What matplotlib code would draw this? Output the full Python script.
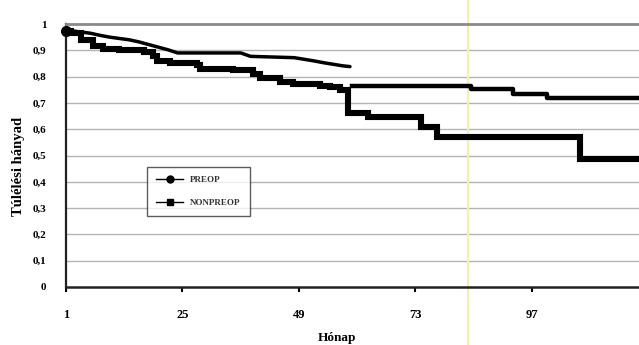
import matplotlib
matplotlib.use("Agg")
import matplotlib.pyplot as plt
from matplotlib.lines import Line2D

# ============================
# DATA
# ============================
preop_months = [1, 3, 6, 8, 10, 12, 14, 16, 18, 20, 22, 24, 37, 39, 48, 50, 52, 54, 56, 58, 59.5]
preop_surv = [0.978, 0.972, 0.965, 0.957, 0.950, 0.945, 0.940, 0.932, 0.922, 0.912, 0.902, 0.890,
              0.890, 0.877, 0.872, 0.866, 0.860, 0.853, 0.847, 0.841, 0.838]

nonpreop_months = [1, 2, 4, 6.6, 8.6, 12, 17, 19, 19.7, 22.4, 28, 28.6, 35.4, 39.5, 41, 45, 47.8,
                   53.3, 55.4, 57.4, 59.1, 63.3, 74.2, 77.4, 106.9, 119.5]
nonpreop_surv = [0.975, 0.965, 0.94, 0.915, 0.905, 0.90, 0.895, 0.88, 0.86, 0.85, 0.843, 0.83,
                 0.825, 0.81, 0.795, 0.78, 0.77, 0.765, 0.76, 0.75, 0.66, 0.648, 0.609, 0.571,
                 0.487, 0.487]

late_months = [59.9, 84.5, 93.0, 100.0, 119.5]
late_surv = [0.765, 0.752, 0.734, 0.72, 0.72]

x_ticks = [1, 25, 49, 73, 97]
y_ticks = [0, 0.1, 0.2, 0.3, 0.4, 0.5, 0.6, 0.7, 0.8, 0.9, 1.0]
y_labels = ["0", "0,1", "0,2", "0,3", "0,4", "0,5", "0,6", "0,7", "0,8", "0,9", "1"]

SCAN_STREAK = 83.8  # yellowish streak left by the scanner

# ============================
# FIGURE
# ============================
plt.rcParams["font.family"] = ["Liberation Serif", "DejaVu Serif"]
plt.rcParams["font.weight"] = "bold"

fig = plt.figure(figsize=(6.39, 3.45), dpi=100)
ax = fig.add_axes([66 / 639, 1 - 287 / 345, 1 - 66 / 639, (287 - 24) / 345])
ax.set_xlim(1, 119.05)
ax.set_ylim(0, 1)

for y in y_ticks[1:-1]:
    ax.axhline(y, color="#b4b4b4", lw=1.0, zorder=1)

ax.axvline(SCAN_STREAK, ymin=-0.3, ymax=1.2, color="#f2f2b0", lw=1.6, zorder=1, clip_on=False)

# preop curve looks smoothed in the scan -> plain polyline
ax.plot(preop_months, preop_surv, color="black", lw=2.5,
        solid_joinstyle="round", solid_capstyle="round", zorder=3)
ax.step(nonpreop_months, nonpreop_surv, where="post", color="black", lw=4.4,
        solid_joinstyle="miter", zorder=3)
ax.step(late_months, late_surv, where="post", color="black", lw=3.2, zorder=3)
ax.plot([1], [0.975], "o", color="black", ms=7, zorder=4, clip_on=False)

ax.spines["right"].set_visible(False)
ax.spines["top"].set_color("#8a8a8a")
ax.spines["top"].set_linewidth(2.0)
ax.spines["left"].set_color("#222222")
ax.spines["left"].set_linewidth(1.6)
ax.spines["bottom"].set_color("#222222")
ax.spines["bottom"].set_linewidth(1.8)

ax.set_yticks(y_ticks)
ax.set_yticklabels(y_labels, fontsize=8, fontweight="bold")
ax.tick_params(axis="y", length=0, pad=14)
ax.set_xticks(x_ticks)
ax.set_xticklabels([str(t) for t in x_ticks], fontsize=9, fontweight="bold")
ax.tick_params(axis="x", length=3.5, width=1.5, pad=12, direction="out")

fig.text(19 / 639, 1 - 166 / 345, "Túlélési hányad", rotation=90, ha="center", va="center",
         fontsize=10.5, fontweight="bold")
fig.text(337 / 639, 1 - 338 / 345, "Hónap", ha="center", va="center",
         fontsize=9.5, fontweight="bold")

handles = [
    Line2D([], [], color="black", lw=1.0, marker="o", ms=5),
    Line2D([], [], color="black", lw=1.0, marker="s", ms=5),
]
leg = ax.legend(handles, ["PREOP", "NONPREOP"], loc="upper left",
                bbox_to_anchor=(147 / 639, 1 - 167 / 345), bbox_transform=fig.transFigure,
                borderaxespad=0, fancybox=False, frameon=True, prop={"size": 6.5, "weight": "bold"},
                handlelength=3.0, labelspacing=1.6, borderpad=1.0, handletextpad=0.8)
leg.get_frame().set_edgecolor("#333333")
leg.get_frame().set_linewidth(1.0)
for t in leg.get_texts():
    t.set_color("#333333")

fig.savefig("out.png", dpi=100)
